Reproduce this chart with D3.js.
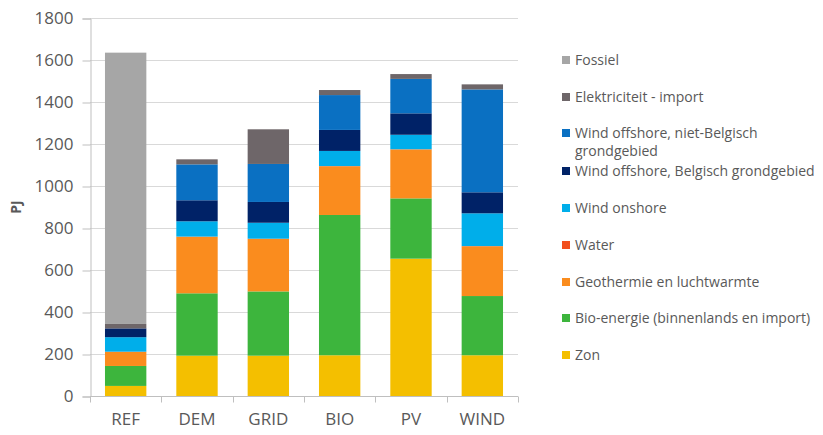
<!DOCTYPE html>
<html>
<head>
<meta charset="utf-8">
<script src="https://cdn.jsdelivr.net/npm/d3@7"></script>
<style>
  html, body { margin: 0; padding: 0; background: #fff; }
  svg { display: block; }
  text { font-family: "Open Sans", "Noto Sans", sans-serif; fill: #595959; }
</style>
</head>
<body>
<svg id="chart" width="823" height="435"></svg>
<script>
// Scenarios on the x axis
const categories = ["REF", "DEM", "GRID", "BIO", "PV", "WIND"];

// Energy supply per source, in PJ (stacked bottom to top)
const zon        = [48, 192, 192, 194, 654, 194];
const bioEnergie = [95, 297, 306, 668, 287, 282];
const geothermie = [67, 269, 250, 232, 233, 237];
const water      = [1, 1, 1, 1, 1, 1];
const windOnshore = [69, 73, 76, 72, 69, 156];
const windOffBE  = [42, 100, 99, 100, 102, 100];
const windOffNiet = [0, 171, 181, 166, 164, 490];
const elekImport = [21, 24, 165, 24, 23, 24];
const fossiel    = [1292, 0, 0, 0, 0, 0];

// Series names as listed in the legend (top to bottom)
const seriesNames = [
  "Fossiel",
  "Elektriciteit - import",
  "Wind offshore, niet-Belgisch grondgebied",
  "Wind offshore, Belgisch grondgebied",
  "Wind onshore",
  "Water",
  "Geothermie en luchtwarmte",
  "Bio-energie (binnenlands en import)",
  "Zon"
];
const seriesColors = [
  "#a6a6a6", "#6e6669", "#0a70c2", "#002267", "#00aeea",
  "#f2501e", "#fa8c1e", "#3db53d", "#f4bf00"
];
const seriesValues = [
  fossiel, elekImport, windOffNiet, windOffBE, windOnshore,
  water, geothermie, bioEnergie, zon
];

const yTicks = [0, 200, 400, 600, 800, 1000, 1200, 1400, 1600, 1800];

const svg = d3.select("#chart");
const plot = { left: 90, right: 518, top: 18, bottom: 396 };

const x = d3.scaleBand()
  .domain(categories)
  .range([plot.left, plot.right])
  .paddingInner(0.42)
  .paddingOuter(0.21);

const y = d3.scaleLinear()
  .domain([0, 1800])
  .range([plot.bottom, plot.top]);

// Horizontal gridlines
svg.append("g")
  .selectAll("line")
  .data(yTicks.filter(d => d > 0))
  .join("line")
  .attr("x1", plot.left)
  .attr("x2", plot.right)
  .attr("y1", d => y(d) + 0.5)
  .attr("y2", d => y(d) + 0.5)
  .attr("stroke", "#d9d9d9")
  .attr("stroke-width", 1);

// Y axis
const yAxis = svg.append("g")
  .attr("transform", `translate(${plot.left + 0.5},0.5)`)
  .call(d3.axisLeft(y).tickValues(yTicks).tickSize(8).tickPadding(9).tickFormat(d3.format("d")));
yAxis.select(".domain").attr("stroke", "#bfbfbf");
yAxis.selectAll(".tick line").attr("stroke", "#bfbfbf");
yAxis.selectAll(".tick text")
  .attr("font-size", 17)
  .attr("fill", "#595959")
  .style("font-family", "'Open Sans', sans-serif");

// Stacked bars: build the stack from bottom (Zon) to top (Fossiel)
const keys = seriesNames.slice().reverse();
const rows = categories.map((c, i) => {
  const row = { cat: c };
  seriesNames.forEach((n, k) => { row[n] = seriesValues[k][i]; });
  return row;
});
const stacked = d3.stack().keys(keys)(rows);
const colorOf = d3.scaleOrdinal().domain(seriesNames).range(seriesColors);

svg.append("g")
  .selectAll("g")
  .data(stacked)
  .join("g")
  .attr("fill", d => colorOf(d.key))
  .selectAll("rect")
  .data(d => d)
  .join("rect")
  .attr("x", d => x(d.data.cat))
  .attr("width", x.bandwidth())
  .attr("y", d => y(d[1]))
  .attr("height", d => Math.max(0, y(d[0]) - y(d[1])));

// X axis with tick marks at the category boundaries
const xAxisG = svg.append("g").attr("transform", `translate(0,${plot.bottom + 0.5})`);
xAxisG.append("line")
  .attr("x1", plot.left).attr("x2", plot.right)
  .attr("stroke", "#bfbfbf");
const step = x.step();
const boundaries = d3.range(categories.length + 1).map(i => plot.left + i * step);
xAxisG.selectAll(".bt")
  .data(boundaries)
  .join("line")
  .attr("class", "bt")
  .attr("x1", d => Math.round(d) + 0.5).attr("x2", d => Math.round(d) + 0.5)
  .attr("y1", 0).attr("y2", 6)
  .attr("stroke", "#bfbfbf");
xAxisG.selectAll("text")
  .data(categories)
  .join("text")
  .attr("x", d => x(d) + x.bandwidth() / 2)
  .attr("y", 28)
  .attr("text-anchor", "middle")
  .attr("font-size", 17)
  .text(d => d);

// Y axis title
svg.append("text")
  .attr("transform", "translate(21,207) rotate(-90)")
  .attr("text-anchor", "middle")
  .attr("font-size", 14)
  .attr("font-weight", "bold")
  .attr("fill", "#404040")
  .text("PJ");

// Legend
const legendRows = [60, 97, 133, 171, 208, 245, 282, 318, 355];
const legend = svg.append("g");
seriesNames.forEach((name, i) => {
  const cy = legendRows[i];
  legend.append("rect")
    .attr("x", 562).attr("y", cy - 4)
    .attr("width", 8).attr("height", 8)
    .attr("fill", seriesColors[i]);
  const t = legend.append("text")
    .attr("x", 575)
    .attr("y", cy + 5)
    .attr("font-size", 14);
  if (name === "Wind offshore, niet-Belgisch grondgebied") {
    t.append("tspan").attr("x", 575).text("Wind offshore, niet-Belgisch");
    t.append("tspan").attr("x", 575).attr("dy", 18).text("grondgebied");
  } else {
    t.text(name);
  }
});
</script>
</body>
</html>
